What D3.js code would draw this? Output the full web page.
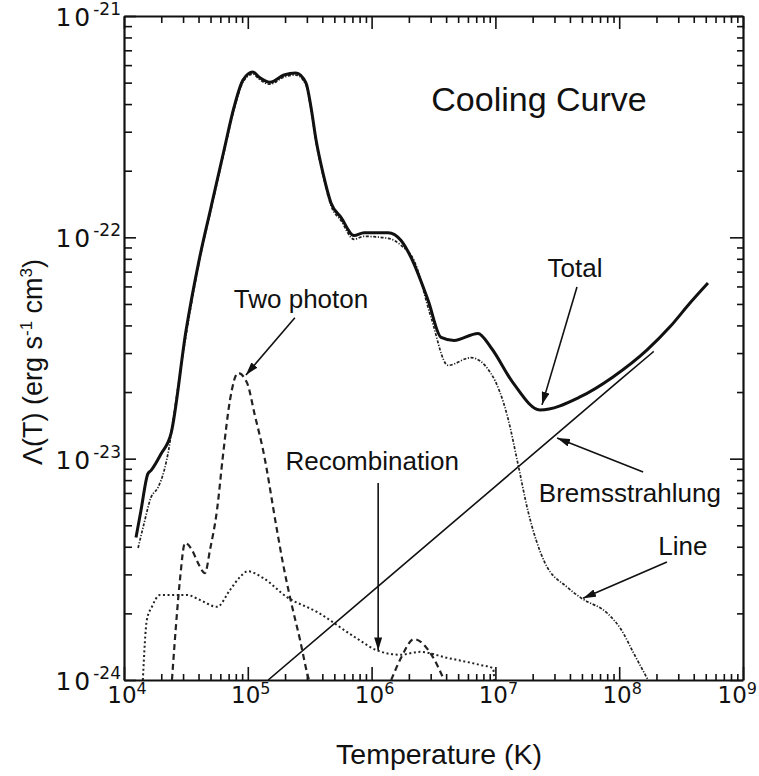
<!DOCTYPE html>
<html>
<head>
<meta charset="utf-8">
<script src="https://cdn.jsdelivr.net/npm/d3@7"></script>
<style>
  body { margin: 0; background: #fff; }
  svg { display: block; }
</style>
</head>
<body>
<svg id="chart" width="759" height="776"></svg>
<script>
// ---------------- DATA ----------------
// Temperature in K, cooling function Λ(T) in erg s^-1 cm^3
const totalT = [1.25e4, 1.37e4, 1.56e4, 1.65e4, 1.99e4, 2.40e4, 3.17e4, 4.04e4, 5.05e4, 6.43e4,
                7.74e4, 9.14e4, 1.10e5, 1.23e5, 1.51e5, 1.96e5, 2.45e5, 2.95e5, 3.24e5, 3.56e5,
                4.05e5, 4.70e5, 5.66e5, 7.21e5, 8.69e5, 1.36e6, 1.73e6, 2.08e6, 2.86e6, 3.64e6,
                4.63e6, 7.23e6, 9.20e6, 1.39e7, 2.29e7, 4.82e7, 8.91e7, 1.68e8, 2.57e8, 3.73e8, 5.21e8];
const totalL = [4.40e-24, 5.82e-24, 8.55e-24, 8.83e-24, 1.05e-23, 1.30e-23, 3.79e-23, 7.87e-23, 1.37e-22, 2.48e-22,
                3.87e-22, 5.13e-22, 5.58e-22, 5.30e-22, 5.02e-22, 5.41e-22, 5.52e-22, 4.98e-22, 3.87e-22, 2.75e-22,
                1.95e-22, 1.43e-22, 1.23e-22, 1.02e-22, 1.05e-22, 1.05e-22, 9.68e-23, 8.13e-23, 5.19e-23, 3.53e-23,
                3.42e-23, 3.68e-23, 3.18e-23, 2.20e-23, 1.66e-23, 1.90e-23, 2.34e-23, 3.10e-23, 3.94e-23, 5.05e-23, 6.22e-23];

const lineT = [1.30e4, 1.45e4, 1.65e4, 1.88e4, 2.11e4, 2.31e4, 2.49e4, 3.17e4, 4.04e4, 5.05e4,
               6.43e4, 7.74e4, 9.14e4, 1.10e5, 1.23e5, 1.51e5, 1.96e5, 2.45e5, 2.95e5, 3.24e5,
               3.56e5, 4.05e5, 4.70e5, 5.66e5, 7.21e5, 8.69e5, 1.36e6, 1.73e6, 2.20e6, 3.02e6,
               4.14e6, 6.35e6, 9.20e6, 1.26e7, 1.52e7, 1.83e7, 2.47e7, 3.86e7, 4.91e7, 8.11e7,
               1.03e8, 1.32e8, 1.71e8];
const lineL = [3.95e-24, 5.08e-24, 6.67e-24, 7.40e-24, 8.83e-24, 1.12e-23, 1.49e-23, 3.61e-23, 7.70e-23, 1.34e-22,
               2.42e-22, 3.78e-22, 5.02e-22, 5.47e-22, 5.19e-22, 4.92e-22, 5.30e-22, 5.41e-22, 4.88e-22, 3.79e-22,
               2.69e-22, 1.91e-22, 1.39e-22, 1.19e-22, 9.80e-23, 1.01e-22, 9.90e-23, 9.20e-23, 7.87e-23, 4.35e-23,
               2.64e-23, 2.86e-23, 2.43e-23, 1.53e-23, 9.48e-24, 5.82e-24, 3.45e-24, 2.61e-24, 2.35e-24, 1.99e-24,
               1.70e-24, 1.31e-24, 1.00e-24];

// null separates the two humps
const twoPhotonT = [2.44e4, 2.68e4, 2.83e4, 3.11e4, 3.54e4, 3.96e4, 4.51e4, 4.95e4, 5.64e4, 6.31e4,
                    7.18e4, 8.34e4, 9.86e4, 1.14e5, 1.33e5, 1.72e5, 1.92e5, 2.19e5, 2.64e5, 3.01e5, 3.12e5,
                    null,
                    1.44e6, 1.73e6, 2.20e6, 3.02e6, 3.85e6];
const twoPhotonL = [1.00e-24, 2.01e-24, 2.83e-24, 4.16e-24, 3.87e-24, 3.38e-24, 3.04e-24, 3.87e-24, 5.86e-24, 1.04e-23,
                    1.84e-23, 2.44e-23, 2.20e-23, 1.57e-23, 1.09e-23, 4.76e-24, 3.38e-24, 2.37e-24, 1.52e-24, 1.08e-24, 1.00e-24,
                    null,
                    1.00e-24, 1.26e-24, 1.53e-24, 1.31e-24, 1.00e-24];

const recombT = [1.42e4, 1.53e4, 1.68e4, 1.95e4, 3.23e4, 4.11e4, 5.64e4, 7.18e4, 8.65e4, 1.00e5,
                 1.33e5, 2.07e5, 3.62e5, 7.35e5, 1.11e6, 1.70e6, 2.46e6, 4.06e6, 7.51e6, 9.57e6, 9.80e6];
const recombL = [1.00e-24, 1.87e-24, 2.14e-24, 2.42e-24, 2.42e-24, 2.30e-24, 2.14e-24, 2.55e-24, 2.92e-24, 3.10e-24,
                 2.89e-24, 2.37e-24, 2.03e-24, 1.56e-24, 1.36e-24, 1.30e-24, 1.34e-24, 1.26e-24, 1.17e-24, 1.13e-24, 1.00e-24];

const bremsT = [1.46e5, 1.0e6, 1.0e7, 1.0e8, 1.9e8];
const bremsL = [1.00e-24, 2.50e-24, 7.50e-24, 2.25e-23, 3.05e-23];

// axis ticks
const xTickValues = [1e4, 1e5, 1e6, 1e7, 1e8, 1e9];
const xTickExps   = ["4", "5", "6", "7", "8", "9"];
const yTickValues = [1e-24, 1e-23, 1e-22, 1e-21];
const yTickExps   = ["-24", "-23", "-22", "-21"];

// annotations (in data coordinates)
const annotLabels = ["Two photon", "Recombination", "Total", "Bremsstrahlung", "Line"];
const annotTextT  = [2.69e5, 1.01e6, 4.40e7, 1.22e8, 3.27e8];
const annotTextL  = [4.80e-23, 8.89e-24, 6.62e-23, 6.37e-24, 3.67e-24];
const arrowFromT  = [2.40e5, 1.13e6, 4.56e7, 1.56e8, 2.43e8];
const arrowFromL  = [4.33e-23, 7.76e-24, 5.97e-23, 8.71e-24, 3.41e-24];
const arrowToT    = [9.66e4, 1.13e6, 2.38e7, 3.15e7, 5.11e7];
const arrowToL    = [2.39e-23, 1.36e-24, 1.75e-23, 1.24e-23, 2.34e-24];
const titleText = "Cooling Curve";
const titleT = 2.25e7, titleL = 3.72e-22;

// ---------------- CHART ----------------
const W = 759;
const svg = d3.select("#chart");
const plot = { left: 124, right: 743, top: 16, bottom: 680 };

const x = d3.scaleLog().domain([1e4, 1e9]).range([plot.left, plot.right]);
const y = d3.scaleLog().domain([1e-24, 1e-21]).range([plot.bottom, plot.top]);

const defs = svg.append("defs");
defs.append("clipPath").attr("id", "clip").append("rect")
  .attr("x", plot.left).attr("y", plot.top - 2)
  .attr("width", plot.right - plot.left).attr("height", plot.bottom - plot.top + 2);
defs.append("marker").attr("id", "ah")
  .attr("viewBox", "0 0 13 8").attr("refX", 13).attr("refY", 4)
  .attr("markerWidth", 13).attr("markerHeight", 8)
  .attr("markerUnits", "userSpaceOnUse").attr("orient", "auto")
  .append("path").attr("d", "M0,0L13,4L0,8Z").attr("fill", "#111");

// minor tick positions
const minorX = [];
xTickValues.slice(0, -1).forEach(d => { for (let k = 2; k <= 9; k++) minorX.push(d * k); });
const minorY = [];
yTickValues.slice(0, -1).forEach(d => { for (let k = 2; k <= 9; k++) minorY.push(d * k); });

function styleAxis(g, keepDomain) {
  g.selectAll(".tick line").attr("stroke", "#111").attr("stroke-width", 1.6);
  g.selectAll("text").remove();
  if (keepDomain) g.select(".domain").attr("stroke", "#111").attr("stroke-width", 2.2);
  else g.select(".domain").remove();
}

// bottom
svg.append("g").attr("transform", `translate(0,${plot.bottom})`)
  .call(d3.axisBottom(x).tickValues(xTickValues).tickSize(-13).tickSizeOuter(0).tickFormat(""))
  .call(g => styleAxis(g, true));
svg.append("g").attr("transform", `translate(0,${plot.bottom})`)
  .call(d3.axisBottom(x).tickValues(minorX).tickSize(-6).tickSizeOuter(0).tickFormat(""))
  .call(g => styleAxis(g, false));
// top
svg.append("g").attr("transform", `translate(0,${plot.top})`)
  .call(d3.axisTop(x).tickValues(xTickValues).tickSize(-13).tickSizeOuter(0).tickFormat(""))
  .call(g => styleAxis(g, true));
svg.append("g").attr("transform", `translate(0,${plot.top})`)
  .call(d3.axisTop(x).tickValues(minorX).tickSize(-7).tickSizeOuter(0).tickFormat(""))
  .call(g => styleAxis(g, false));
// left
svg.append("g").attr("transform", `translate(${plot.left},0)`)
  .call(d3.axisLeft(y).tickValues(yTickValues).tickSize(-12).tickSizeOuter(0).tickFormat(""))
  .call(g => styleAxis(g, true));
svg.append("g").attr("transform", `translate(${plot.left},0)`)
  .call(d3.axisLeft(y).tickValues(minorY).tickSize(-8).tickSizeOuter(0).tickFormat(""))
  .call(g => styleAxis(g, false));
// right
svg.append("g").attr("transform", `translate(${plot.right},0)`)
  .call(d3.axisRight(y).tickValues(yTickValues).tickSize(-13).tickSizeOuter(0).tickFormat(""))
  .call(g => styleAxis(g, true));
svg.append("g").attr("transform", `translate(${plot.right},0)`)
  .call(d3.axisRight(y).tickValues(minorY).tickSize(-6).tickSizeOuter(0).tickFormat(""))
  .call(g => styleAxis(g, false));

// tick labels
const tickFont = "'DejaVu Sans', Verdana, sans-serif";
xTickValues.forEach((v, i) => {
  const last = i === xTickValues.length - 1;
  const t = svg.append("text")
    .attr("x", last ? W - 2 : x(v) + 3).attr("y", plot.bottom + 23)
    .attr("text-anchor", last ? "end" : "middle").attr("font-family", tickFont).attr("fill", "#111");
  t.append("tspan").attr("font-size", 23).text("10");
  t.append("tspan").attr("font-size", 16).attr("dy", -9).text(xTickExps[i]);
});
yTickValues.forEach((v, i) => {
  const t = svg.append("text").attr("x", plot.left - 3).attr("y", y(v) + 10)
    .attr("text-anchor", "end").attr("font-family", tickFont).attr("fill", "#111");
  t.append("tspan").attr("font-size", 25).attr("letter-spacing", 3).text("10");
  t.append("tspan").attr("font-size", 17).attr("dy", -11).text(yTickExps[i]);
});

// axis titles
const labFont = "'Liberation Sans', Arial, Helvetica, sans-serif";
svg.append("text").attr("x", 439).attr("y", 764).attr("text-anchor", "middle")
  .attr("font-family", labFont).attr("font-size", 28.5).attr("fill", "#111")
  .text("Temperature (K)");
const yt = svg.append("text").attr("transform", "translate(42,362) rotate(-90)")
  .attr("text-anchor", "middle").attr("font-family", labFont).attr("font-size", 27).attr("fill", "#111");
yt.append("tspan").text("\u039B(T) (erg s");
yt.append("tspan").attr("font-size", 17).attr("dy", -10).text("-1");
yt.append("tspan").attr("dy", 10).text(" cm");
yt.append("tspan").attr("font-size", 17).attr("dy", -10).text("3");
yt.append("tspan").attr("dy", 10).text(")");

// curves
function series(T, L) { return T.map((t, i) => ({ t, l: L[i] })); }
const lineGen = d3.line()
  .defined(d => d.t != null && d.l != null)
  .x(d => x(d.t)).y(d => y(d.l))
  .curve(d3.curveMonotoneX);

const curves = svg.append("g").attr("clip-path", "url(#clip)").attr("fill", "none");
curves.append("path").datum(series(recombT, recombL)).attr("d", lineGen)
  .attr("stroke", "#222").attr("stroke-width", 2).attr("stroke-dasharray", "2,2.6");
curves.append("path").datum(series(twoPhotonT, twoPhotonL)).attr("d", lineGen)
  .attr("stroke", "#222").attr("stroke-width", 2.2).attr("stroke-dasharray", "6,4");
curves.append("path").datum(series(bremsT, bremsL)).attr("d", lineGen)
  .attr("stroke", "#111").attr("stroke-width", 1.6);
curves.append("path").datum(series(lineT, lineL)).attr("d", lineGen)
  .attr("stroke", "#222").attr("stroke-width", 1.7).attr("stroke-dasharray", "3,1.6,1.2,1.6");
curves.append("path").datum(series(totalT, totalL)).attr("d", lineGen)
  .attr("stroke", "#111").attr("stroke-width", 3);

// annotations
annotLabels.forEach((lab, i) => {
  svg.append("line")
    .attr("x1", x(arrowFromT[i])).attr("y1", y(arrowFromL[i]))
    .attr("x2", x(arrowToT[i])).attr("y2", y(arrowToL[i]))
    .attr("stroke", "#111").attr("stroke-width", 1.6).attr("marker-end", "url(#ah)");
  svg.append("text").attr("x", x(annotTextT[i])).attr("y", y(annotTextL[i]))
    .attr("text-anchor", "middle").attr("font-family", labFont).attr("font-size", 26)
    .attr("fill", "#111").text(lab);
});
svg.append("text").attr("x", x(titleT)).attr("y", y(titleL))
  .attr("text-anchor", "middle").attr("font-family", labFont).attr("font-size", 34)
  .attr("fill", "#111").text(titleText);
</script>
</body>
</html>
